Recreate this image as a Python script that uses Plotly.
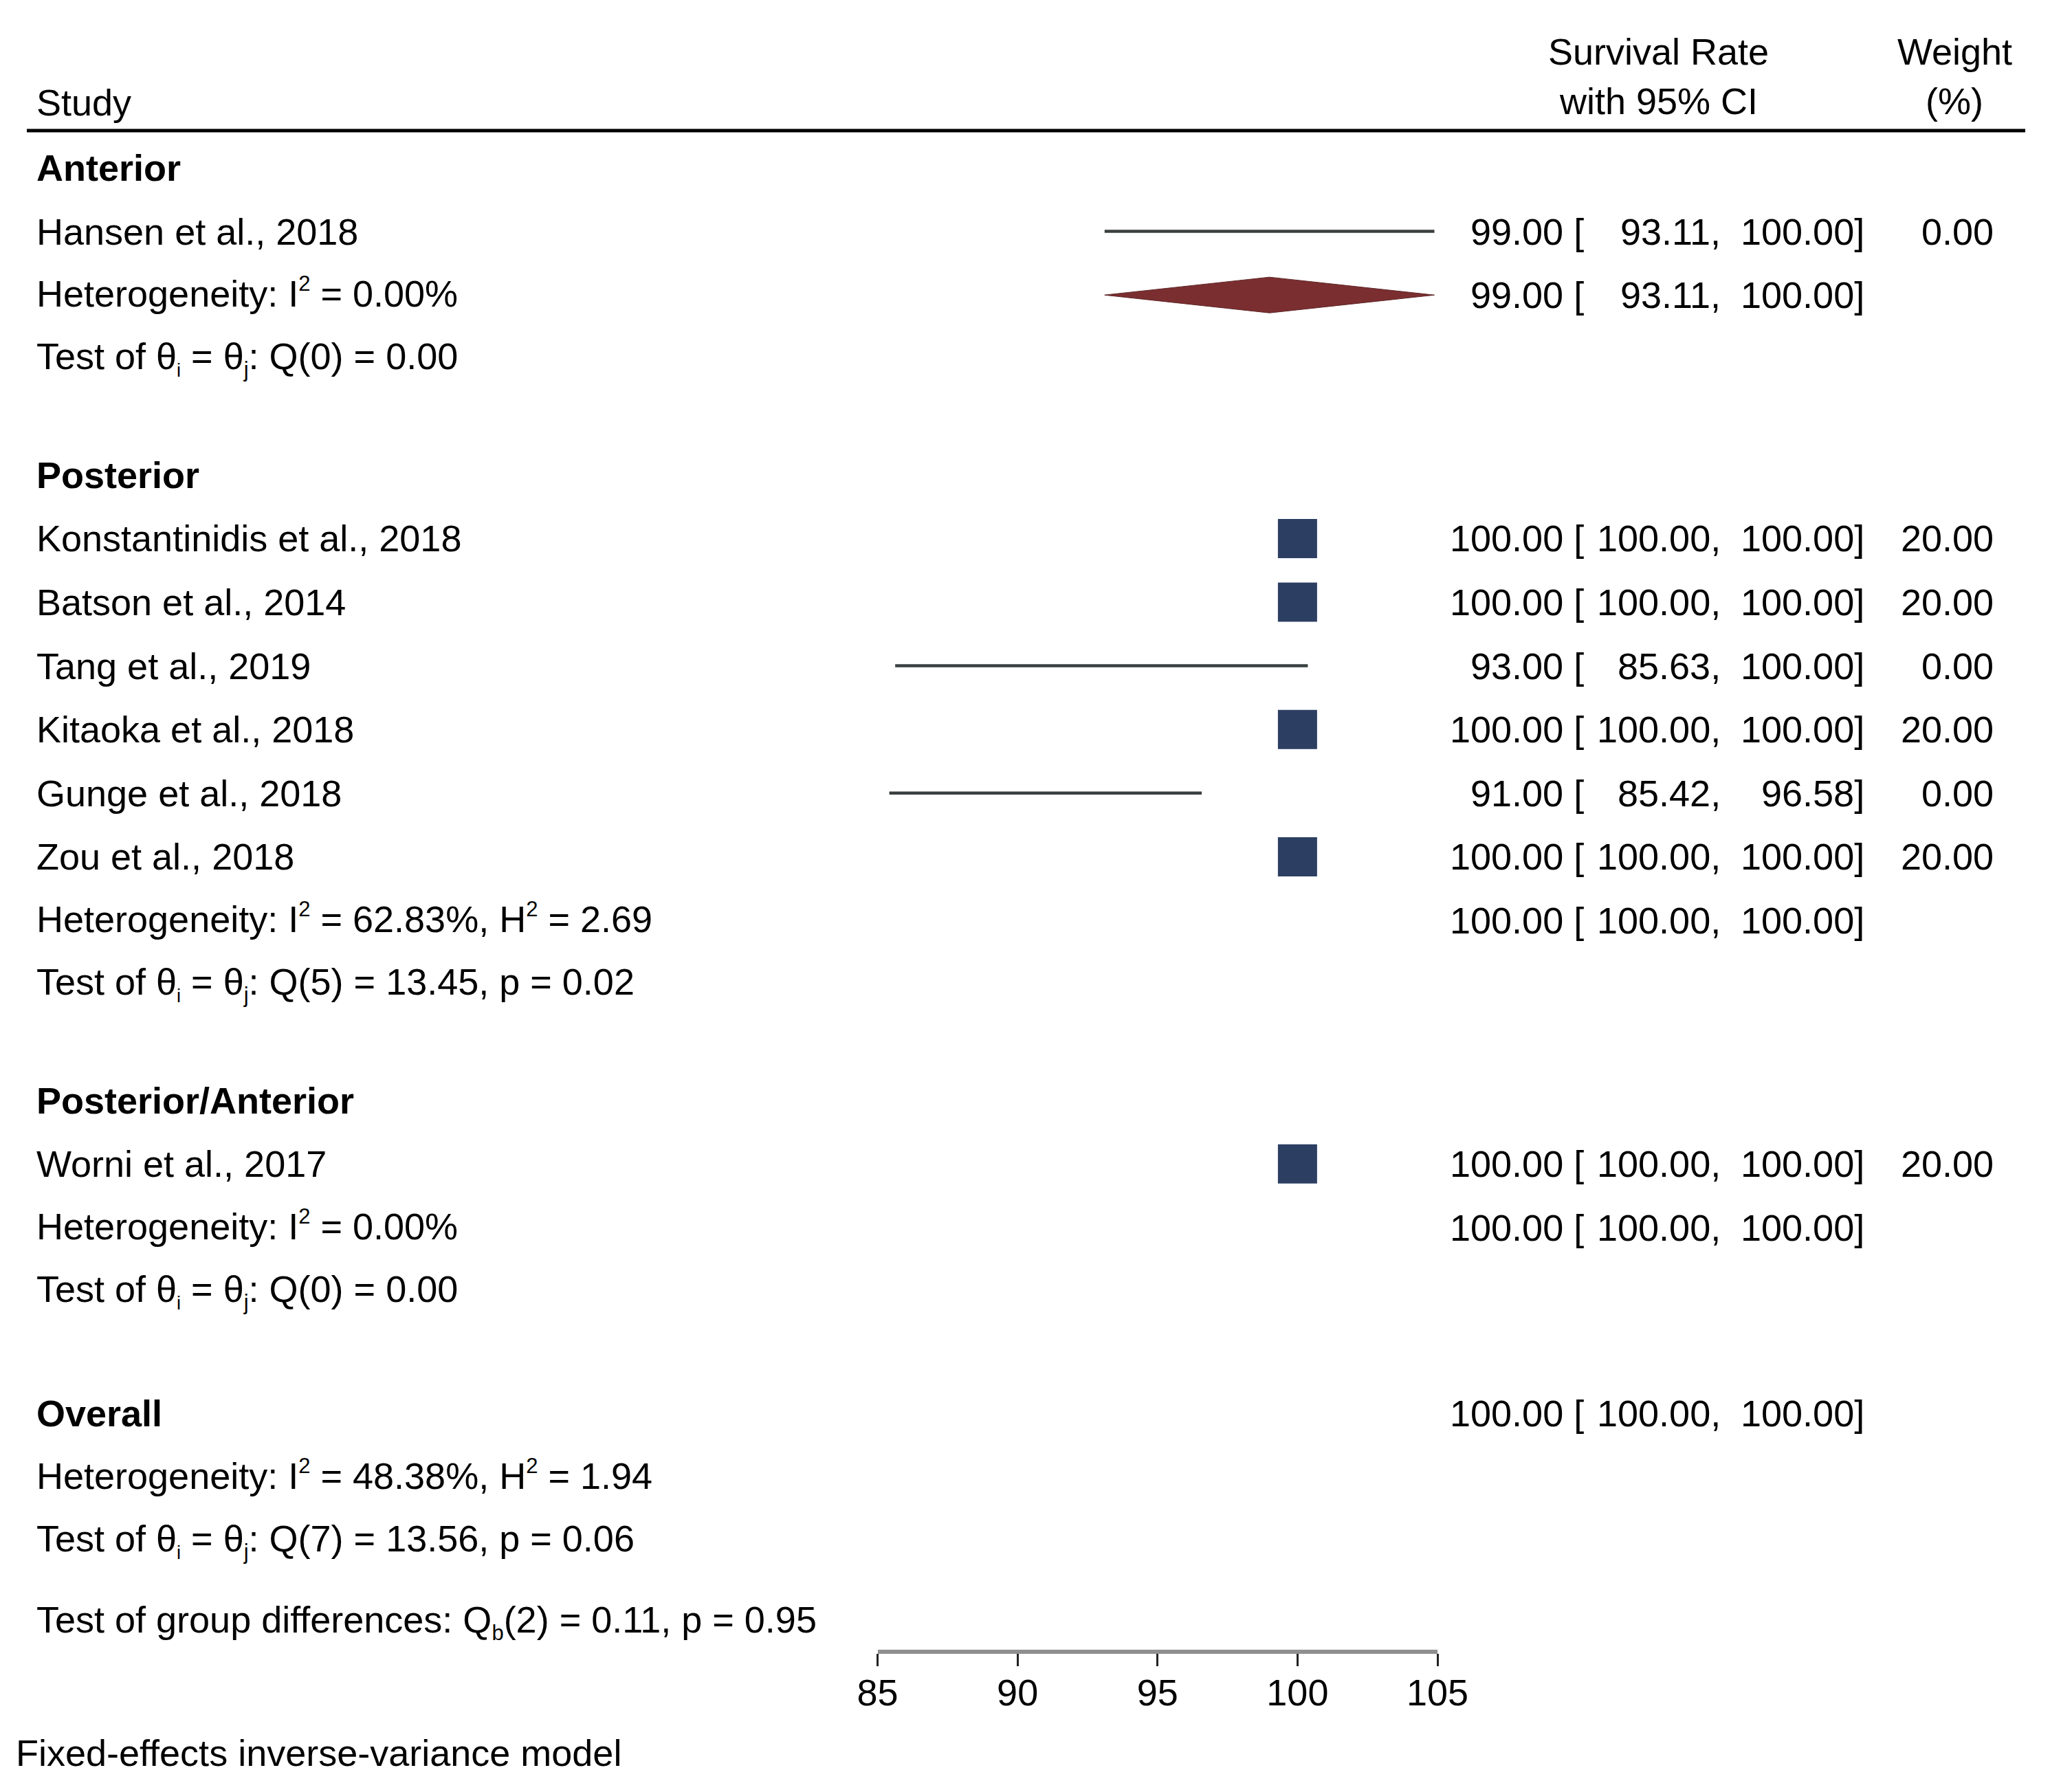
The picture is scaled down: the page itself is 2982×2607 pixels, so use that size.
import plotly.graph_objects as go

# ---------------- data ----------------
group_names = ["Anterior", "Posterior", "Posterior/Anterior"]

study_names = ["Hansen et al., 2018", "Konstantinidis et al., 2018", "Batson et al., 2014",
               "Tang et al., 2019", "Kitaoka et al., 2018", "Gunge et al., 2018",
               "Zou et al., 2018", "Worni et al., 2017"]
study_group = [0, 1, 1, 1, 1, 1, 1, 2]
study_est = [99.00, 100.00, 100.00, 93.00, 100.00, 91.00, 100.00, 100.00]
study_lo = [93.11, 100.00, 100.00, 85.63, 100.00, 85.42, 100.00, 100.00]
study_hi = [100.00, 100.00, 100.00, 100.00, 100.00, 96.58, 100.00, 100.00]
# whisker end as drawn in the picture (untruncated)
study_hi_drawn = [104.89, 100.00, 100.00, 100.37, 100.00, 96.58, 100.00, 100.00]
study_weight = [0.00, 20.00, 20.00, 0.00, 20.00, 0.00, 20.00, 20.00]

group_est = [99.00, 100.00, 100.00]
group_lo = [93.11, 100.00, 100.00]
group_hi = [100.00, 100.00, 100.00]
group_hi_drawn = [104.89, 100.00, 100.00]
group_i2 = ["0.00%", "62.83%", "0.00%"]
group_h2 = [None, "2.69", None]
group_q = ["Q(0) = 0.00", "Q(5) = 13.45, p = 0.02", "Q(0) = 0.00"]

overall_est, overall_lo, overall_hi = 100.00, 100.00, 100.00
overall_i2 = "48.38%"
overall_h2 = "1.94"
overall_q = "Q(7) = 13.56, p = 0.06"
group_diff_q = "(2) = 0.11, p = 0.95"

x_ticks = [85, 90, 95, 100, 105]
x_range = [85, 105]

# ---------------- layout constants (pixels) ----------------
W, H = 2982, 2607
FONT = "Liberation Sans, Arial, Helvetica, sans-serif"
FS = 54
TXT = "#000000"
SQ_COL = "#2c3e62"
DIA_COL = "#7b2e30"
LINE_COL = "#3a4040"

X_LEFT = 51
X_FOOT = 21
X_EST = 2306
X_LO = 2505
X_HI = 2714
X_W = 2902
X_HDR_CI = 2412
X_HDR_W = 2843
AX_L, AX_R = 1276.5, 2091
AX_Y = 2403
STEP = 92.6
GAP_GROUP = 169
GAP_OVERALL = 178
GAP_DIFF = 118
Y_FIRST = 244
SQ_SIZE = 57
DIA_H = 52

SUP = "<sup><span style='font-size:31px'>2</span></sup>"
THETA = "θ<sub><span style='font-size:27px'>i</span></sub> = θ<sub><span style='font-size:31px'>j</span></sub>"


def px(x):
    return x / W


annotations = []


def text(x, y, s, anchor="left", size=FS, yref="y", yshift=0):
    annotations.append(dict(x=px(x), xref="paper", y=y, yref=yref, text=s,
                            showarrow=False, xanchor=anchor, yanchor="middle",
                            yshift=yshift,
                            font=dict(family=FONT, size=size, color=TXT)))


def ci_text(y, est, lo, hi, w=None):
    text(X_EST, y, f"{est:.2f} [", "right")
    text(X_LO, y, f"{lo:.2f},", "right")
    text(X_HI, y, f"{hi:.2f}]", "right")
    if w is not None:
        text(X_W, y, f"{w:.2f}", "right")


def het_text(i2, h2):
    s = "Heterogeneity: I" + SUP + " = " + i2
    if h2 is not None:
        s += ", H" + SUP + " = " + h2
    return s


# row positions
y = Y_FIRST
line_x, line_y = [], []
sq_x, sq_y, sq_s = [], [], []
diamonds = []
for g, gname in enumerate(group_names):
    if g > 0:
        y += GAP_GROUP
    text(X_LEFT, y, f"<b>{gname}</b>")
    for i, name in enumerate(study_names):
        if study_group[i] != g:
            continue
        y += STEP
        text(X_LEFT, y, name)
        ci_text(y, study_est[i], study_lo[i], study_hi[i], study_weight[i])
        if study_hi_drawn[i] > study_lo[i]:
            line_x += [study_lo[i], study_hi_drawn[i], None]
            line_y += [y, y, None]
        if study_weight[i] > 0:
            sq_x.append(study_est[i])
            sq_y.append(y)
            sq_s.append(SQ_SIZE * (study_weight[i] / 20.0) ** 0.5)
    y += STEP
    text(X_LEFT, y, het_text(group_i2[g], group_h2[g]), yshift=3)
    ci_text(y, group_est[g], group_lo[g], group_hi[g])
    if group_hi_drawn[g] > group_lo[g]:
        diamonds.append((group_lo[g], group_est[g], group_hi_drawn[g], y))
    y += STEP
    text(X_LEFT, y, "Test of " + THETA + ": " + group_q[g], yshift=0)

y += GAP_OVERALL
text(X_LEFT, y, "<b>Overall</b>")
ci_text(y, overall_est, overall_lo, overall_hi)
y += STEP
text(X_LEFT, y, het_text(overall_i2, overall_h2), yshift=3)
y += STEP
text(X_LEFT, y, "Test of " + THETA + ": " + overall_q, yshift=0)
y += GAP_DIFF
text(X_LEFT, y, "Test of group differences: Q<sub><span style='font-size:31px'>b</span></sub>" + group_diff_q,
     yshift=0)

# footer & headers
text(X_FOOT, 2550, "Fixed-effects inverse-variance model")
text(X_LEFT, 149, "Study")
text(X_HDR_CI, 75, "Survival Rate", "center")
text(X_HDR_CI, 147, "with 95% CI", "center")
text(X_HDR_W, 75, "Weight", "center")
text(X_HDR_W, 147, "(%)", "center")

fig = go.Figure()

fig.add_trace(go.Scatter(x=line_x, y=line_y, mode="lines",
                         line=dict(color=LINE_COL, width=4.5),
                         hoverinfo="skip", showlegend=False))

for lo, est, hi, yc in diamonds:
    fig.add_trace(go.Scatter(x=[lo, est, hi, est, lo],
                             y=[yc, yc - DIA_H / 2, yc, yc + DIA_H / 2, yc],
                             mode="lines", fill="toself", fillcolor=DIA_COL,
                             line=dict(color="#5e2526", width=1),
                             hoverinfo="skip", showlegend=False))

fig.add_trace(go.Scatter(x=sq_x, y=sq_y, mode="markers",
                         marker=dict(symbol="square", size=sq_s, color=SQ_COL,
                                     opacity=1, line=dict(width=0)),
                         hoverinfo="skip", showlegend=False))

fig.update_layout(
    width=W, height=H,
    autosize=False,
    margin=dict(l=0, r=0, t=0, b=0, pad=0, autoexpand=False),
    paper_bgcolor="white", plot_bgcolor="white",
    showlegend=False,
    annotations=annotations,
    shapes=[dict(type="line", xref="paper", yref="paper",
                 x0=px(39), x1=px(2946), y0=1 - 190 / H, y1=1 - 190 / H,
                 line=dict(color="#000000", width=5))],
    xaxis=dict(domain=[px(AX_L), px(AX_R)], range=x_range,
               tickmode="array", tickvals=x_ticks, ticktext=[str(t) for t in x_ticks],
               ticks="outside", ticklen=18, tickwidth=3, tickcolor="#222222",
               ticklabelstandoff=-8,
               showline=True, linecolor="#8f8f8f", linewidth=6,
               anchor="free", position=1 - AX_Y / H, automargin=False,
               showgrid=False, zeroline=False, fixedrange=True,
               tickfont=dict(family=FONT, size=54, color=TXT)),
    yaxis=dict(domain=[0, 1], range=[H, 0], visible=False, fixedrange=True,
               automargin=False, showgrid=False, zeroline=False),
)

fig.write_html("out.html",
               config={"displayModeBar": False},
               post_script="document.body.style.margin='0';document.body.style.overflow='hidden';")
